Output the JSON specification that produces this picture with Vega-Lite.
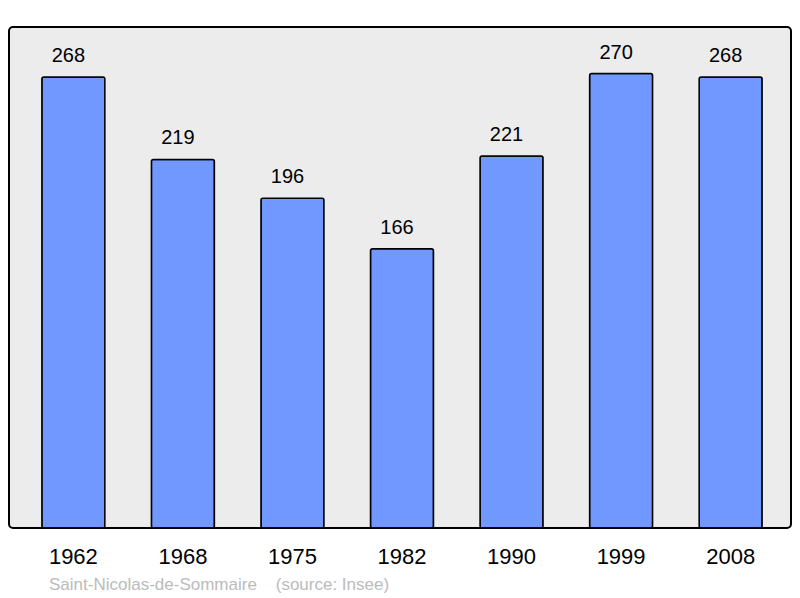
{
  "$schema": "https://vega.github.io/schema/vega-lite/v6.json",
  "width": 782,
  "height": 501,
  "autosize": {"type": "none"},
  "padding": {"left": 9, "top": 27, "right": 9, "bottom": 70},
  "background": "#ffffff",
  "config": {
    "font": "Liberation Sans",
    "view": {"fill": "#ececec", "stroke": "#000000", "strokeWidth": 2, "cornerRadius": 4}
  },
  "title": {
    "text": "Saint-Nicolas-de-Sommaire\u00a0\u00a0\u00a0\u00a0(source: Insee)",
    "orient": "bottom",
    "anchor": "start",
    "frame": "group",
    "font": "Liberation Sans",
    "fontSize": 17,
    "fontWeight": "normal",
    "color": "#bbbbbb",
    "dx": 40,
    "offset": 10
  },
  "data": {
    "values": [
      {"year": "1962", "pop": 268},
      {"year": "1968", "pop": 219},
      {"year": "1975", "pop": 196},
      {"year": "1982", "pop": 166},
      {"year": "1990", "pop": 221},
      {"year": "1999", "pop": 270},
      {"year": "2008", "pop": 268}
    ]
  },
  "encoding": {
    "x": {
      "field": "year",
      "type": "ordinal",
      "sort": null,
      "scale": {"paddingInner": 0.425, "paddingOuter": 0.3, "range": [0, 786]},
      "axis": {
        "title": null,
        "domain": false,
        "ticks": false,
        "labelAngle": 0,
        "labelFontSize": 22,
        "labelColor": "#000000",
        "labelBaseline": "alphabetic",
        "labelPadding": 35
      }
    },
    "y": {
      "field": "pop",
      "type": "quantitative",
      "scale": {"domain": [0, 297.7], "nice": false},
      "axis": null
    }
  },
  "layer": [
    {
      "mark": {"type": "bar", "fill": "#7098ff", "stroke": "#000000", "strokeWidth": 1.5, "cornerRadius": 2}
    },
    {
      "mark": {"type": "text", "fontSize": 20, "color": "#000000", "baseline": "alphabetic", "dy": -15, "dx": -5},
      "encoding": {"text": {"field": "pop", "type": "quantitative"}}
    }
  ]
}
